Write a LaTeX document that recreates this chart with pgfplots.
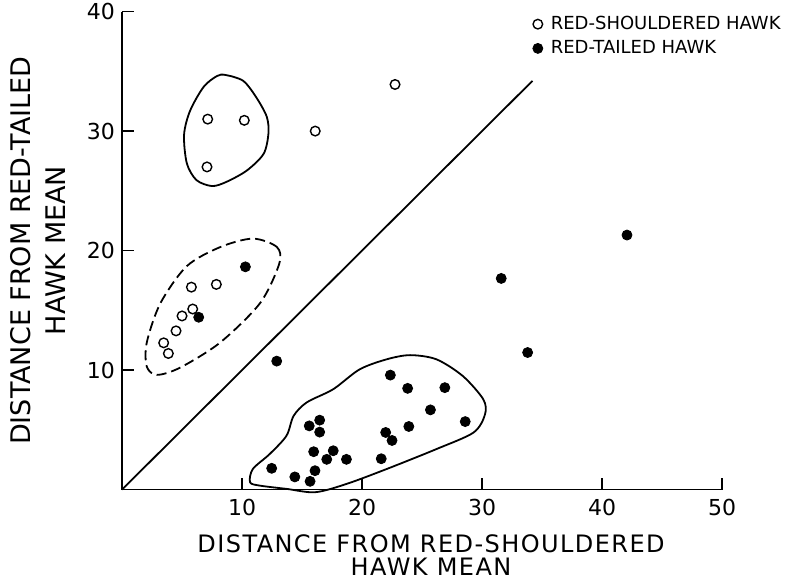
\documentclass[border=0pt]{standalone}
\usepackage{fontspec}
\setmainfont{DejaVu Sans}
\usepackage{pgfplots}
\pgfplotsset{compat=1.18}
\begin{document}
\begin{tikzpicture}
\begin{axis}[
  scale only axis, width=300pt, height=239pt,
  xmin=0, xmax=50, ymin=0, ymax=40,
  axis x line*=bottom, axis y line*=left,
  xtick pos=left, ytick pos=left,
  axis line style={-, line width=0.7pt},
  xtick={10,20,30,40,50}, ytick={10,20,30,40},
  tick align=inside, major tick length=6pt,
  tick style={black, line width=0.8pt},
  ticklabel style={font=\fontsize{11}{13}\selectfont},
  xticklabel style={yshift=-1.5pt},
  /pgf/number format/assume math mode=true,
  xlabel={DISTANCE FROM RED-SHOULDERED\\HAWK MEAN},
  xlabel style={align=center, font=\fontsize{12}{11.5}\selectfont\addfontfeature{LetterSpace=6},
    inner ysep=0.5pt,
    at={(axis description cs:0.515,0)}, anchor=north, yshift=-22pt},
  ylabel={DISTANCE FROM RED-TAILED\\HAWK MEAN},
  ylabel style={align=center, font=\fontsize{13.5}{17.5}\selectfont,
    at={(axis description cs:-0.082,0.5)}, anchor=south},
  clip=false,
  legend style={draw=none, fill=none, at={(axis cs:34.2,40.0)}, anchor=north west,
    inner sep=0pt, font=\fontsize{9}{9}\selectfont, row sep=0pt,
    nodes={inner xsep=4pt}},
  legend cell align=left,
  legend image code/.code={\draw[#1] plot coordinates {(0pt,0pt)};},
]
\addplot[only marks, mark=o, mark size=2.4pt, mark options={line width=0.7pt, fill=white}, black]
coordinates {
(7.14,31.0) (10.19,30.9) (7.08,27.0) (16.1,30.0) (22.75,33.9)
(5.78,16.94) (7.86,17.17) (5.89,15.11) (5.0,14.53) (4.5,13.28)
(3.47,12.28) (3.86,11.39)
};
\addlegendentry{RED-SHOULDERED HAWK}
\addplot[only marks, mark=*, mark size=2.5pt, black]
coordinates {
(10.28,18.64) (6.39,14.42) (12.89,10.75) (22.36,9.58) (23.8,8.47)
(26.9,8.53) (25.7,6.67) (28.6,5.69) (23.9,5.28) (21.97,4.78)
(22.5,4.11) (21.6,2.58) (16.47,5.81) (15.6,5.33) (16.47,4.81)
(15.97,3.17) (17.6,3.25) (17.06,2.53) (18.7,2.53) (12.47,1.78)
(14.4,1.06) (16.08,1.58) (15.67,0.69) (42.08,21.3) (31.6,17.67)
(33.8,11.47)
};
\addlegendentry{RED-TAILED HAWK}
% diagonal
\addplot[black, line width=0.9pt, forget plot] coordinates {(0,0) (34.2,34.2)};
% top solid contour
\addplot[black, line width=0.9pt, smooth cycle, forget plot] coordinates {
(8.6,34.7) (10.1,34.2) (11.2,32.8) (12.06,31.2) (12.2,29.8) (11.8,28.1)
(10.4,26.7) (8.7,25.75) (7.5,25.4) (6.2,25.9) (5.4,27.3) (5.17,29.7)
(5.67,31.7) (6.8,33.7) (7.9,34.6)
};
% dashed contour
\addplot[black, line width=0.9pt, dash pattern=on 5pt off 2.5pt, smooth cycle, forget plot] coordinates {
(10.9,21.0) (12.9,20.3) (13.1,18.9) (11.5,15.6) (8.17,12.3) (4.83,10.2)
(2.9,9.6) (2.06,10.3) (2.06,12.3) (3.2,15.6) (5.4,18.7) (8.2,20.3)
};
% bottom blob contour
\addplot[black, line width=0.9pt, smooth cycle, forget plot] coordinates {
(24.0,11.25) (26.2,10.9) (28.4,9.5) (30.1,7.56) (30.25,6.3) (29.3,4.78)
(26.2,3.39) (22.05,1.72) (18.7,0.47) (16.1,-0.22) (13.7,0.06) (11.5,0.33)
(10.67,0.61) (10.9,1.72) (12.3,2.97) (13.7,4.5) (14.3,6.17) (15.4,7.3)
(17.6,8.4) (19.8,10.06) (22.05,10.9)
};
\path (axis cs:-10.17,-7.7) coordinate (bl) (axis cs:55.33,40.97) coordinate (tr);
\end{axis}
\pgfresetboundingbox
\path[use as bounding box] (bl) rectangle (tr);
\end{tikzpicture}
\end{document}
